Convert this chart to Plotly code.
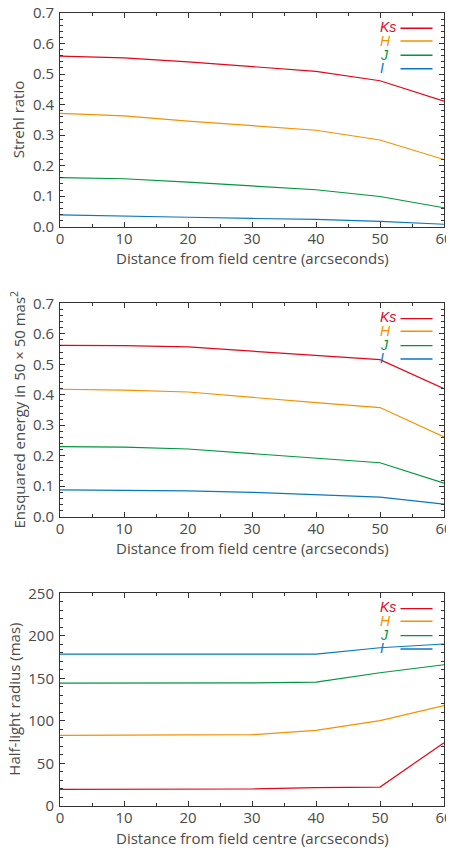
import plotly.graph_objects as go
from plotly.subplots import make_subplots

distance = [0, 10, 20, 30, 40, 50, 60]
bands = ["Ks", "H", "J", "I"]
colors = {"Ks": "#e3061a", "H": "#f39200", "J": "#00963f", "I": "#0a78c0"}

strehl = {
    "Ks": [0.559, 0.553, 0.540, 0.525, 0.509, 0.478, 0.411],
    "H": [0.371, 0.363, 0.346, 0.331, 0.316, 0.284, 0.220],
    "J": [0.161, 0.157, 0.146, 0.133, 0.121, 0.099, 0.062],
    "I": [0.039, 0.036, 0.031, 0.027, 0.024, 0.0175, 0.008],
}
ensquared = {
    "Ks": [0.562, 0.561, 0.557, 0.543, 0.529, 0.515, 0.420],
    "H": [0.418, 0.415, 0.409, 0.391, 0.374, 0.358, 0.262],
    "J": [0.230, 0.228, 0.222, 0.207, 0.192, 0.177, 0.110],
    "I": [0.088, 0.087, 0.085, 0.080, 0.073, 0.064, 0.041],
}
halflight = {
    "Ks": [19.6, 19.6, 19.6, 20.0, 21.5, 22.3, 74.4],
    "H": [83.0, 83.0, 83.0, 83.8, 89.0, 100.3, 117.9],
    "J": [144.5, 144.5, 144.5, 144.7, 145.7, 156.6, 166.0],
    "I": [178.6, 178.6, 178.6, 178.6, 178.6, 186.0, 190.4],
}

panels = [
    (strehl, "Strehl ratio", [0, 0.7], 0.1, 0.02, ".1f"),
    (ensquared, "Ensquared energy in 50 × 50 mas<sup>2</sup>", [0, 0.7], 0.1, 0.02, ".1f"),
    (halflight, "Half-light radius (mas)", [0, 250], 50, 10, "d"),
]
xtitle = "Distance from field centre (arcseconds)"

OFF = 8  # page body margin
W, H = 454 - OFF, 852 - OFF
ml = 60 - OFF
mr = W - (444 - OFF)
mt = 13 - OFF
mb = H - (806 - OFF)
ph = H - mt - mb
pw = W - ml - mr
tops = [13 - OFF, 303.3 - OFF, 593.3 - OFF]
bots = [226.7 - OFF, 516.7 - OFF, 806 - OFF]
FONT = "Open Sans, Liberation Sans, Arial, sans-serif"
LFONT = "Liberation Sans, Arial, sans-serif"
TXT = "#4a4a4a"
AX = "#333333"

fig = make_subplots(rows=3, cols=1)

for i, (data, ytitle, yr, dt, mdt, fmt) in enumerate(panels):
    r = i + 1
    for b in bands:
        fig.add_trace(go.Scatter(x=distance, y=data[b], mode="lines",
                                 line=dict(color=colors[b], width=1.2),
                                 showlegend=False, hoverinfo="skip"), row=r, col=1)
    ydom = [(H - mb - bots[i]) / ph, (H - mb - tops[i]) / ph]
    ydom = [max(0, ydom[0]), min(1, ydom[1])]
    xa = "xaxis" if r == 1 else f"xaxis{r}"
    ya = "yaxis" if r == 1 else f"yaxis{r}"
    common = dict(showline=True, linecolor=AX, linewidth=1, mirror="allticks",
                  ticks="inside", ticklen=5, tickcolor=AX, showgrid=False, zeroline=False,
                  automargin=False, ticklabeloverflow="allow",
                  tickfont=dict(family=FONT, size=15, color=TXT))
    fig.layout[xa].update(domain=[0, 1], range=[0, 60], dtick=10, tick0=0,
                          ticklabelstandoff=-2,
                          minor=dict(dtick=5, ticklen=3, ticks="inside", tickcolor=AX, showgrid=False),
                          **common)
    fig.layout[ya].update(domain=ydom, range=yr, dtick=dt, tick0=0, tickformat=fmt,
                          ticklabelstandoff=2,
                          minor=dict(dtick=mdt, ticklen=3, ticks="inside", tickcolor=AX, showgrid=False),
                          **common)
    yref_dom = ("y" if r == 1 else f"y{r}") + " domain"
    xref_dom = ("x" if r == 1 else f"x{r}") + " domain"
    pheight = bots[i] - tops[i]
    fig.add_annotation(text=xtitle, xref="paper", yref=yref_dom, x=0.5,
                       y=-31.6 / pheight, yanchor="middle",
                       showarrow=False, font=dict(family=FONT, size=15, color=TXT))
    fig.add_annotation(text=ytitle, xref="paper", yref=yref_dom,
                       x=((17.5 if i < 2 else 14) - 60) / pw,
                       y=0.5, textangle=-90, xanchor="center", yanchor="middle",
                       showarrow=False, font=dict(family=FONT, size=15, color=TXT))
    text_offs = [14.0, 27.8, 41.8, 55.0]
    line_offs = [15.3, 28.0, 42.3, 55.7]
    for k, b in enumerate(bands):
        yy = 1 - text_offs[k] / pheight
        fig.add_annotation(text=f"<i>{b}</i>", xref=xref_dom, yref=yref_dom,
                           x=(377.5 - 60) / pw, y=yy, xanchor="left", yanchor="middle",
                           showarrow=False, font=dict(family=LFONT, size=14, color=colors[b]))
        yl = 1 - line_offs[k] / pheight
        fig.add_shape(type="line", xref=xref_dom, yref=yref_dom,
                      x0=(400.5 - 60) / pw, x1=(432.5 - 60) / pw, y0=yl, y1=yl,
                      line=dict(color=colors[b], width=1.4))

fig.update_layout(width=W, height=H, margin=dict(l=ml, r=mr, t=mt, b=mb, autoexpand=False),
                  paper_bgcolor="white", plot_bgcolor="white", showlegend=False,
                  font=dict(family=FONT, color=TXT))

fig.write_html("out.html")
